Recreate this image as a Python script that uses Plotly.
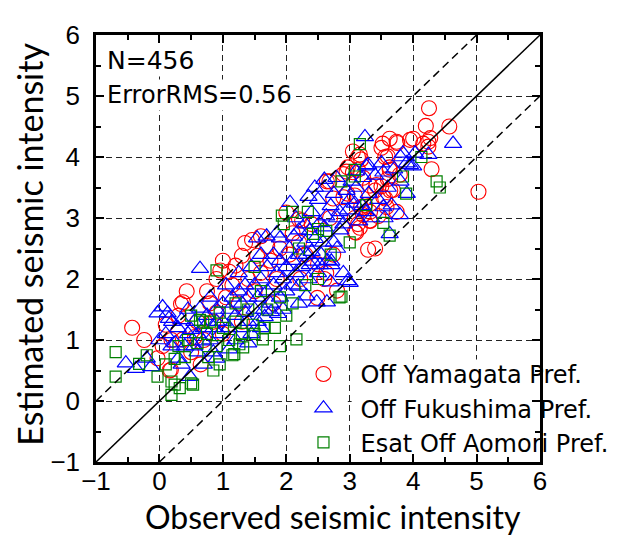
import plotly.graph_objects as go

# ---- data: (observed, estimated) pairs ----
yamagata_x = [-0.43,-0.24,-0.03,0.16,0.19,0.37,0.56,0.37,0.43,0.10,0.30,0.60,
              0.80,0.75,0.90,0.96,1.10,1.20,1.30,1.54,1.35,1.46,1.70,2.00,2.20,1.60,1.00,0.85,0.70,
              1.05,1.15,1.25,1.40,1.50,1.60,1.75,1.85,1.90,2.05,2.10,2.30,2.50,2.63,2.74,2.49,
              2.60,2.80,2.22,2.25,2.69,2.40,2.20,1.80,1.30,1.00,0.90,0.50,0.65,0.05,0.18,0.34,
              2.68,2.95,3.13,3.63,3.79,2.90,3.18,3.32,3.16,3.32,3.45,3.10,3.40,3.58,3.74,3.40,3.53,3.21,
              4.25,4.20,4.57,4.27,4.00,4.16,3.63,3.74,3.52,3.60,3.16,3.18,4.29,3.63,3.42,3.68,5.03,3.05,
              3.05,3.13,2.97,2.90,2.64,3.60,3.50,3.32,3.56,3.64,2.74,3.08,2.96,3.24,3.21,3.08,3.32,3.13,
              3.08,3.29,3.95,3.75,3.50,4.24,4.24,3.56]
yamagata_y = [1.20,1.00,0.70,0.50,1.00,1.01,1.05,1.62,1.80,1.25,1.40,1.30,
              1.60,1.80,2.00,2.14,2.12,2.22,2.38,2.38,2.59,2.64,2.54,3.09,2.98,2.70,2.30,1.30,1.00,
              1.70,1.90,1.60,2.00,1.80,2.10,2.30,2.00,2.50,2.40,2.75,2.40,2.24,2.10,2.40,1.69,
              2.00,1.81,2.00,2.96,3.00,2.90,2.60,1.60,1.30,1.10,1.45,0.80,0.60,0.90,0.51,1.59,
              3.60,3.76,3.79,3.79,3.71,3.34,3.18,3.10,2.84,2.95,3.03,2.76,2.50,3.18,3.10,3.45,3.34,3.66,
              4.80,4.51,4.50,4.31,4.30,4.22,4.30,4.25,4.22,4.01,4.04,3.96,3.80,3.83,3.54,3.46,3.43,3.75,
              4.09,4.00,3.83,3.72,3.60,3.64,3.52,3.53,3.32,3.45,3.32,3.37,3.40,3.21,3.05,3.00,2.96,2.90,
              2.77,2.48,4.28,4.23,4.15,4.25,4.17,4.00]

fukushima_x = [-0.53,-0.37,-0.13,-0.20,0.05,-0.03,0.13,0.35,0.29,0.64,0.50,0.19,0.48,0.69,0.00,0.10,
               0.30,0.40,0.60,0.55,0.70,0.75,0.80,0.85,0.90,0.95,0.85,0.70,
               1.00,1.00,1.05,1.10,1.10,1.15,1.20,1.20,1.25,1.25,1.30,1.30,1.35,1.35,1.40,1.40,1.45,1.45,
               1.50,1.50,1.55,1.55,1.60,1.60,1.65,1.66,1.70,1.70,1.75,1.76,1.80,1.80,1.85,1.87,1.90,1.90,
               1.95,2.00,2.00,2.05,2.10,2.10,2.15,2.19,2.20,2.25,2.30,2.32,2.35,2.37,2.40,2.45,2.48,2.50,
               2.53,2.55,2.58,2.60,2.64,2.65,2.71,2.71,2.75,2.80,2.85,3.00,2.97,2.42,2.32,2.37,2.53,2.63,
               1.54,1.69,1.85,2.06,2.12,1.90,0.64,
               2.60,2.79,3.03,3.21,3.29,3.08,2.97,2.84,3.53,3.66,3.79,3.34,3.63,3.95,3.24,3.84,4.03,4.24,
               3.90,4.00,3.53,3.10,3.26,4.63,2.90,3.00,3.10,3.20,3.30,3.40,3.45,3.50,3.60,3.70,3.80,2.95,
               2.70,2.75,2.80,3.15,3.25,2.50,2.40,2.30,2.20,2.15,2.45,2.35,2.60,3.80,3.90,3.55,
               2.70,2.90,2.20,1.95,1.60,1.40,1.10,0.90,
               0.20,0.45,0.25,0.60,0.35,0.90,0.80,0.45,0.55,0.15]
fukushima_y = [0.62,0.53,0.56,0.70,1.54,1.44,1.44,1.33,1.20,1.52,1.17,0.90,0.40,0.98,1.00,1.10,
               0.70,0.90,0.80,1.30,1.20,1.40,1.00,1.20,1.50,1.10,0.80,0.60,
               1.30,1.60,1.90,1.20,1.50,1.70,1.00,1.40,1.80,2.10,1.20,1.60,1.45,1.90,1.30,1.70,2.20,1.10,
               1.50,1.90,1.30,1.70,2.00,2.40,1.50,1.38,1.80,2.20,1.60,1.46,1.90,2.40,2.10,1.43,1.70,2.30,
               2.00,1.80,2.20,2.50,1.90,2.30,2.10,1.88,2.40,2.20,2.60,1.72,2.00,2.23,2.45,2.66,1.62,2.10,
               2.23,2.40,2.60,2.85,1.62,2.30,2.23,2.29,2.60,2.50,2.80,1.94,1.97,2.29,2.40,2.79,2.92,3.03,
               2.67,2.70,2.75,3.25,2.70,2.67,2.17,
               3.63,3.66,3.60,3.66,3.87,3.24,3.13,3.10,3.18,3.21,3.05,3.00,2.74,3.87,4.33,4.06,4.06,4.04,
               3.90,3.85,3.75,3.77,3.85,4.22,2.90,3.30,3.50,3.20,3.40,3.70,3.30,3.90,3.50,3.80,4.00,3.45,
               3.20,3.40,3.00,2.95,3.10,3.30,3.10,2.90,2.80,3.00,3.50,3.35,3.50,3.60,3.40,3.00,
               1.95,2.10,1.60,1.50,1.20,0.95,0.85,0.70,
               1.30,1.50,0.95,1.10,0.60,1.30,1.70,1.10,0.90,1.35]

aomori_x = [-0.69,-0.69,-0.32,-0.20,-0.03,0.19,0.24,0.19,0.32,0.50,0.53,0.85,0.77,0.40,0.24,0.64,0.69,
            0.10,0.30,0.45,0.60,0.75,0.90,1.00,0.95,1.10,1.20,1.30,1.15,1.63,1.90,2.16,1.26,1.32,1.66,
            1.82,2.84,1.18,1.47,1.40,1.50,1.70,1.90,2.00,2.10,2.30,2.50,1.60,1.20,0.95,
            3.16,3.08,3.08,2.87,4.13,3.84,3.89,4.37,4.42,3.26,3.53,3.63,2.34,2.50,2.63,2.42,2.87,
            2.10,2.20,2.70,3.00,0.90,1.50,0.50,0.80,1.93,1.96]
aomori_y = [0.80,0.40,0.61,0.75,0.40,0.32,0.27,0.10,0.21,0.29,0.27,0.50,0.72,0.72,0.69,1.33,1.30,
            0.60,0.90,1.00,0.95,1.10,0.90,1.20,0.60,1.00,1.30,1.10,0.75,1.01,0.90,1.01,0.93,0.88,1.20,
            1.20,1.70,0.77,1.25,1.50,1.10,1.50,1.70,1.40,1.60,1.90,2.00,1.80,1.60,1.45,
            4.21,3.79,3.68,3.60,4.00,3.68,3.40,3.60,3.50,3.21,2.92,2.71,3.10,2.82,2.79,2.74,1.71,
            3.10,2.50,2.40,2.60,2.14,2.20,1.40,1.30,3.04,2.90]

series_names = ["Off Yamagata Pref.", "Off Fukushima Pref.", "Esat Off Aomori Pref."]

# reference lines: y = x, y = x + 1, y = x - 1
diag_x = [-1, 6]
diag_y = [-1, 6]
upper_x = [-1, 5]
upper_y = [0, 6]
lower_x = [0, 6]
lower_y = [-1, 5]

tick_vals = [-1, 0, 1, 2, 3, 4, 5, 6]

fig = go.Figure()
fig.add_trace(go.Scatter(x=yamagata_x, y=yamagata_y, mode="markers", name=series_names[0],
                         marker=dict(symbol="circle-open", size=15, color="#ff0000", line=dict(width=1.1))))
fig.add_trace(go.Scatter(x=fukushima_x, y=fukushima_y, mode="markers", name=series_names[1],
                         marker=dict(symbol="triangle-up-open", size=15, color="#0000ff", line=dict(width=1.2))))
fig.add_trace(go.Scatter(x=aomori_x, y=aomori_y, mode="markers", name=series_names[2],
                         marker=dict(symbol="square-open", size=11, color="#008000", line=dict(width=1.2))))
fig.add_trace(go.Scatter(x=diag_x, y=diag_y, mode="lines", showlegend=False, hoverinfo="skip",
                         line=dict(color="black", width=1.5)))
fig.add_trace(go.Scatter(x=upper_x, y=upper_y, mode="lines", showlegend=False, hoverinfo="skip",
                         line=dict(color="black", width=1.5, dash="8px,5px")))
fig.add_trace(go.Scatter(x=lower_x, y=lower_y, mode="lines", showlegend=False, hoverinfo="skip",
                         line=dict(color="black", width=1.5, dash="8px,5px")))

axis_common = dict(
    range=[-1, 6], tickvals=tick_vals, ticks="inside", ticklen=8, tickwidth=1.5, tickcolor="black",
    showline=True, linewidth=2.5, linecolor="black", mirror="allticks",
    showgrid=True, gridcolor="#222222", gridwidth=1.1, griddash="6px,4px",
    zeroline=False, ticklabeloverflow="allow",
    minor=dict(dtick=0.5, ticks="inside", ticklen=5, tickwidth=1.5, tickcolor="black", showgrid=False),
    tickfont=dict(family="Liberation Sans", size=26, color="black"),
)

# the page body has an 8px margin, so the figure is sized/offset to compensate
fig.update_layout(
    width=621, height=529,
    margin=dict(l=88, r=89, t=14, b=75),
    paper_bgcolor="white", plot_bgcolor="white",
    showlegend=True,
    legend=dict(x=0.429, y=0.258, xanchor="left", yanchor="top", bgcolor="rgba(0,0,0,0)",
                font=dict(family="DejaVu Sans", size=24, color="black"),
                itemwidth=64, tracegroupgap=0, itemsizing="trace"),
    xaxis=dict(axis_common, ticklabelstandoff=-6),
    yaxis=dict(axis_common, ticklabelstandoff=8),
    shapes=[
        dict(type="rect", xref="x", yref="y", x0=2.25, x1=2.97, y0=-0.85, y1=0.68,
             fillcolor="white", line=dict(width=0), layer="between"),
        dict(type="rect", xref="x", yref="y", x0=3.03, x1=5.97, y0=-0.85, y1=0.68,
             fillcolor="white", line=dict(width=0), layer="between"),
    ],
    annotations=[
        dict(text="N=456", xref="paper", yref="paper", x=0.02, y=0.941, xanchor="left", yanchor="middle",
             showarrow=False, bgcolor="white", font=dict(family="DejaVu Sans", size=25, color="black")),
        dict(text="ErrorRMS=0.56", xref="paper", yref="paper", x=0.02, y=0.859, xanchor="left", yanchor="middle",
             showarrow=False, bgcolor="white", font=dict(family="DejaVu Sans", size=24, color="black")),
        dict(text="Observed seismic intensity", xref="paper", yref="paper", x=0.534, y=-0.127,
             xanchor="center", yanchor="middle", showarrow=False,
             font=dict(family="Lato", size=32, color="black")),
        dict(text="Estimated seismic intensity", xref="paper", yref="paper", x=-0.150, y=0.51,
             xanchor="center", yanchor="middle", textangle=-90, showarrow=False,
             font=dict(family="Lato", size=34, color="black")),
    ],
)

fig.write_html("out.html")
